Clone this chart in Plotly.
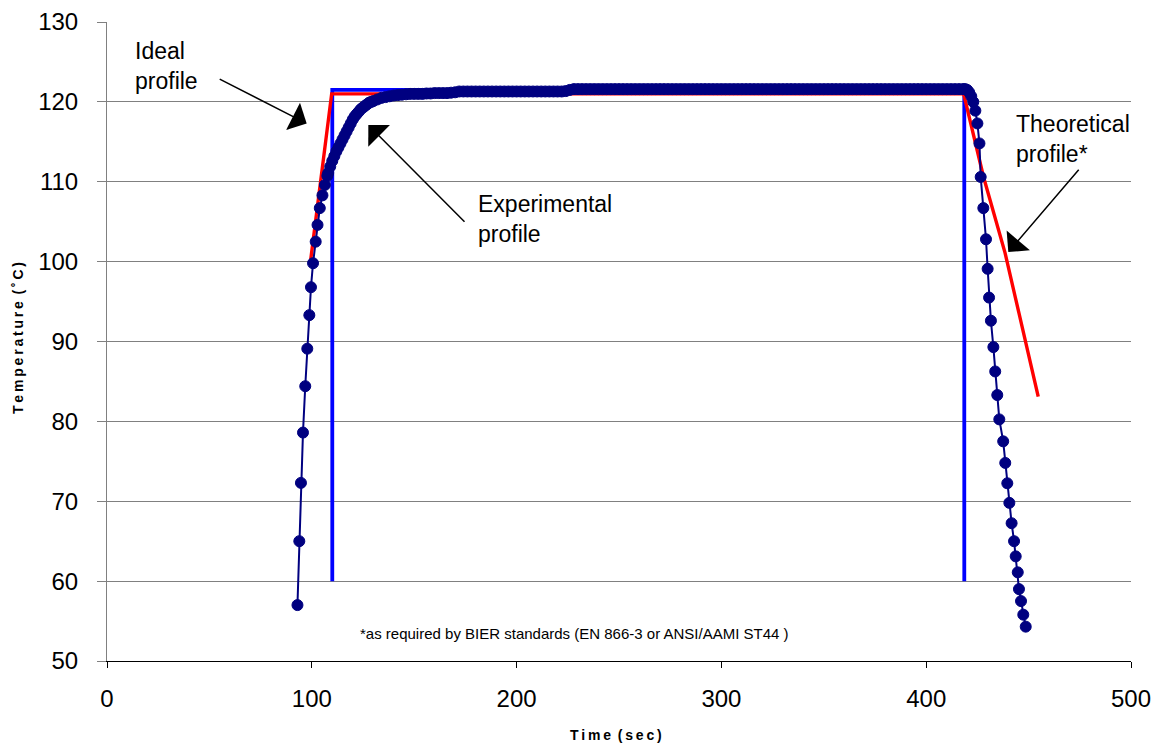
import plotly.graph_objects as go

# ---------------- data ----------------
# Experimental profile (time in s, temperature in degC)
exp_time_rise = [93.0, 93.9, 94.7, 95.7, 96.8, 97.8, 98.8, 99.6, 100.6, 101.9,
                 102.8, 103.9, 105.2, 106.4, 107.6]
exp_temp_rise = [57.0, 65.0, 72.3, 78.6, 84.4, 89.1, 93.3, 96.8, 99.8, 102.5,
                 104.6, 106.7, 108.3, 109.6, 110.75]

exp_time_approach = [108, 109, 110, 111, 112, 113, 114, 115, 116, 117, 118, 119,
                     120, 121, 122, 123, 124, 125, 126, 127, 128, 129, 130, 132,
                     134, 136, 138, 140, 142, 144, 146, 148, 150]
exp_temp_approach = [111.1, 111.9, 112.6, 113.2, 113.8, 114.3, 114.8, 115.3, 115.8,
                     116.3, 116.8, 117.3, 117.8, 118.2, 118.5, 118.8, 119.1, 119.3,
                     119.5, 119.7, 119.9, 120.0, 120.1, 120.3, 120.5, 120.6, 120.7,
                     120.8, 120.85, 120.9, 120.95, 121.0, 121.0]

exp_time_hold = [152, 154, 156, 158, 160, 162, 164, 166, 168, 170, 172, 174, 176,
                 178, 180, 182, 184, 186, 188, 190, 192, 194, 196, 198, 200, 202,
                 204, 206, 208, 210, 212, 214, 216, 218, 220, 222, 224, 226, 228,
                 230, 232, 234, 236, 238, 240, 242, 244, 246, 248, 250, 252, 254,
                 256, 258, 260, 262, 264, 266, 268, 270, 272, 274, 276, 278, 280,
                 282, 284, 286, 288, 290, 292, 294, 296, 298, 300, 302, 304, 306,
                 308, 310, 312, 314, 316, 318, 320, 322, 324, 326, 328, 330, 332,
                 334, 336, 338, 340, 342, 344, 346, 348, 350, 352, 354, 356, 358,
                 360, 362, 364, 366, 368, 370, 372, 374, 376, 378, 380, 382, 384,
                 386, 388, 390, 392, 394, 396, 398, 400, 402, 404, 406, 408, 410,
                 412, 414, 416, 418]
exp_temp_hold = [121.0, 121.0, 121.05, 121.05, 121.1, 121.1, 121.1, 121.1, 121.15,
                 121.2, 121.3, 121.3, 121.3, 121.3, 121.3, 121.3, 121.3, 121.3,
                 121.3, 121.3, 121.3, 121.3, 121.3, 121.3, 121.3, 121.3, 121.3,
                 121.3, 121.3, 121.3, 121.3, 121.3, 121.3, 121.3, 121.3, 121.3,
                 121.35, 121.5, 121.6, 121.6, 121.6, 121.6, 121.6, 121.6, 121.6,
                 121.6, 121.6, 121.6, 121.6, 121.6, 121.6, 121.6, 121.6, 121.6,
                 121.6, 121.6, 121.6, 121.6, 121.6, 121.6, 121.6, 121.6, 121.6,
                 121.6, 121.6, 121.6, 121.6, 121.6, 121.6, 121.6, 121.6, 121.6,
                 121.6, 121.6, 121.6, 121.6, 121.6, 121.6, 121.6, 121.6, 121.6,
                 121.6, 121.6, 121.6, 121.6, 121.6, 121.6, 121.6, 121.6, 121.6,
                 121.6, 121.6, 121.6, 121.6, 121.6, 121.6, 121.6, 121.6, 121.6,
                 121.6, 121.6, 121.6, 121.6, 121.6, 121.6, 121.6, 121.6, 121.6,
                 121.6, 121.6, 121.6, 121.6, 121.6, 121.6, 121.6, 121.6, 121.6,
                 121.6, 121.6, 121.6, 121.6, 121.6, 121.6, 121.6, 121.6, 121.6,
                 121.6, 121.6, 121.6, 121.6, 121.6, 121.6, 121.6, 121.6]

exp_time_fall = [419, 420, 421, 422, 423, 424, 425, 426, 426.6, 427.9, 429.2,
                 430.0, 430.7, 431.6, 432.8, 433.7, 434.7, 435.7, 437.6, 438.6,
                 439.6, 440.6, 441.7, 442.9, 443.7, 444.7, 445.3, 446.3, 447.4, 448.6]
exp_temp_fall = [121.6, 121.5, 121.2, 120.7, 120.0, 118.9, 117.3, 114.8, 110.6,
                 106.7, 102.8, 99.1, 95.5, 92.6, 89.3, 86.25, 83.3, 80.25, 77.5,
                 74.8, 72.25, 69.8, 67.25, 65.0, 63.1, 61.1, 59.0, 57.5, 55.8, 54.3]

exp_time = exp_time_rise + exp_time_approach + exp_time_hold + exp_time_fall
exp_temp = exp_temp_rise + exp_temp_approach + exp_temp_hold + exp_temp_fall

# Ideal profile
ideal_time = [110, 110, 418.6, 418.6]
ideal_temp = [60, 121.5, 121.5, 60]

# Theoretical profile
theo_time = [99.5, 109.7, 418.3, 428.0, 438.5, 446.5, 454.7]
theo_temp = [100.3, 121.0, 121.0, 110.6, 101.1, 92.0, 83.1]

x_ticks = [0, 100, 200, 300, 400, 500]
y_ticks = [50, 60, 70, 80, 90, 100, 110, 120, 130]

FONT = "Liberation Sans, Arial, sans-serif"
TS = "\u2009"  # thin space used for the letter-spaced axis titles

fig = go.Figure()
fig.add_trace(go.Scatter(x=ideal_time, y=ideal_temp, mode="lines",
                         line=dict(color="#0000FF", width=3.8), name="Ideal",
                         showlegend=False))
fig.add_trace(go.Scatter(x=theo_time, y=theo_temp, mode="lines",
                         line=dict(color="#FF0000", width=3.4), name="Theoretical",
                         showlegend=False))
fig.add_trace(go.Scatter(x=exp_time, y=exp_temp, mode="lines+markers",
                         line=dict(color="#000080", width=2),
                         marker=dict(color="#000080", size=11,
                                     line=dict(color="#000080", width=1)),
                         name="Experimental", showlegend=False))

annots = []
# arrows
for (hx, hy, tx, ty) in [(97.5, 117.3, 54.3, 122.95),
                         (127.6, 117.1, 175.3, 104.8),
                         (440.1, 101.2, 475.1, 111.7)]:
    annots.append(dict(x=hx, y=hy, ax=tx, ay=ty, xref="x", yref="y",
                       axref="x", ayref="y", text="", showarrow=True,
                       arrowhead=1, arrowsize=3.4, arrowwidth=1.5,
                       arrowcolor="black", standoff=0))
# labels
for (tx, ty, txt) in [(12.5, 128.25, "Ideal<br>profile"),
                      (180.0, 109.05, "Experimental<br>profile"),
                      (443.0, 119.05, "Theoretical<br>profile*")]:
    annots.append(dict(x=tx, y=ty, xref="x", yref="y", text=txt,
                       showarrow=False, xanchor="left", yanchor="top",
                       align="left", font=dict(family=FONT, size=23, color="black")))
# footnote
annots.append(dict(x=122.6, y=53.4, xref="x", yref="y",
                   text="*as required by BIER standards (EN 866-3 or ANSI/AAMI ST44 )",
                   showarrow=False, xanchor="left", yanchor="middle",
                   font=dict(family=FONT, size=15, color="black")))
# axis titles
annots.append(dict(x=(616 - 107) / 1024, y=-(735 - 661) / 639, xref="paper", yref="paper",
                   text=TS.join("Time") + TS + " " + TS.join("(sec)"), showarrow=False,
                   xanchor="center", yanchor="middle",
                   font=dict(family=FONT, size=14, color="black", weight="bold")))
annots.append(dict(x=(18 - 107) / 1024, y=(661 - 338) / 639, xref="paper", yref="paper",
                   text=TS.join("Temperature") + TS + " " + TS.join("(˚C)"),
                   showarrow=False, textangle=-90,
                   xanchor="center", yanchor="middle",
                   font=dict(family=FONT, size=14, color="black", weight="bold")))

fig.update_layout(
    width=1158, height=745,
    margin=dict(l=107, r=27, t=22, b=84),
    paper_bgcolor="white", plot_bgcolor="white",
    font=dict(family=FONT, color="black"),
    annotations=annots,
    xaxis=dict(range=[0, 500], tickvals=x_ticks, ticktext=[str(v) for v in x_ticks],
               showgrid=False, zeroline=False, showline=True, linecolor="black",
               linewidth=1, ticks="outside", ticklen=6, tickcolor="black",
               tickfont=dict(family=FONT, size=24, color="black"),
               ticklabelstandoff=10, automargin=False),
    yaxis=dict(range=[50, 130], tickvals=y_ticks, ticktext=[str(v) for v in y_ticks],
               showgrid=True, gridcolor="#808080", gridwidth=1, zeroline=False,
               showline=True, linecolor="#808080", linewidth=1, ticks="outside",
               ticklen=9, tickcolor="#808080",
               tickfont=dict(family=FONT, size=24, color="black"),
               ticklabelstandoff=14, automargin=False),
)

fig.write_html("out.html")
